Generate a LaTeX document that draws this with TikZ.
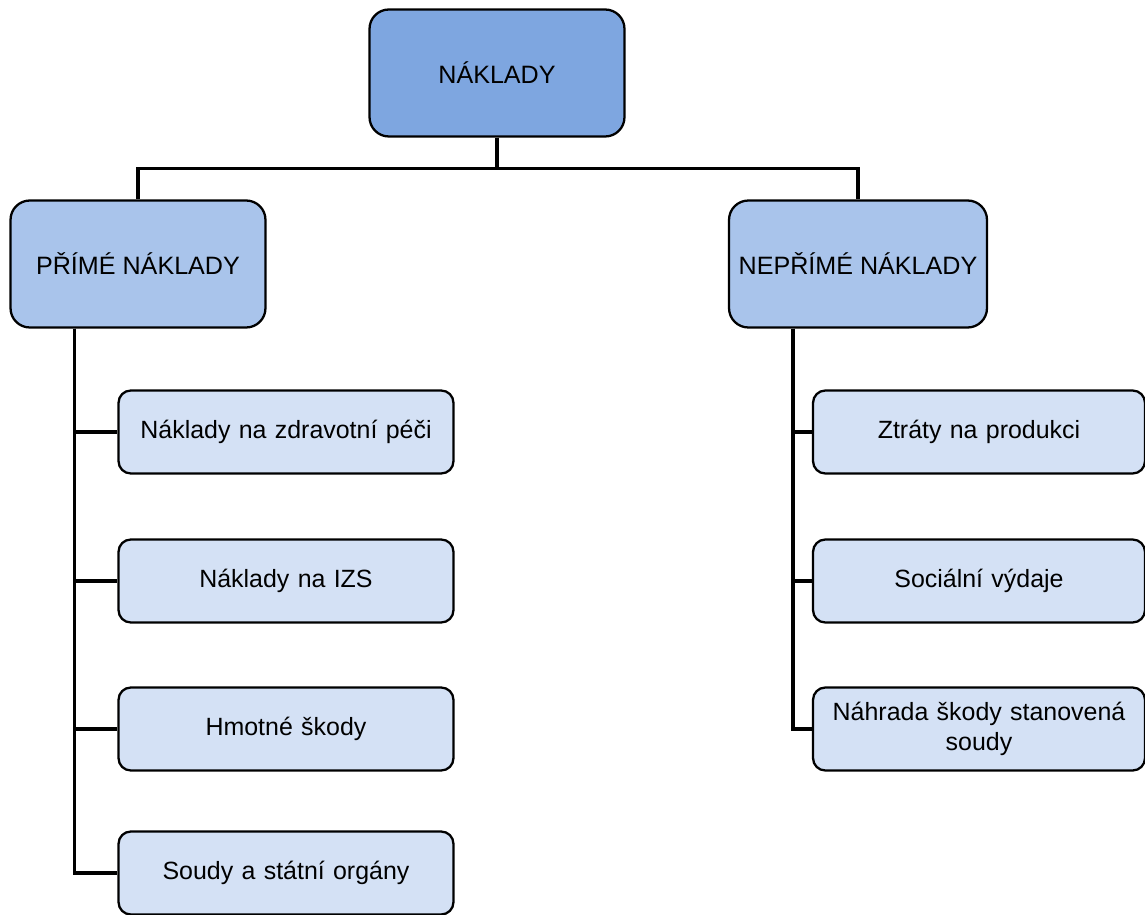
\documentclass[tikz,border=0pt]{standalone}
\usepackage{fontspec}
\setmainfont{Liberation Sans}
\usetikzlibrary{positioning}
\definecolor{rootblue}{HTML}{7EA6E0}
\definecolor{midblue}{HTML}{A9C4EB}
\definecolor{leafblue}{HTML}{D4E1F5}
\tikzset{
  rootbox/.style={draw=black, line width=1.3pt, fill=rootblue, rounded corners=11pt, minimum width=5.1cm, minimum height=2.54cm, align=center, font=\fontsize{14.3}{17}\selectfont},
  midbox/.style={rootbox, fill=midblue},
  leafbox/.style={draw=black, line width=1.3pt, fill=leafblue, rounded corners=7pt, minimum width=6.7cm, minimum height=1.66cm, text width=6.4cm, align=center, font=\fontsize{14.2}{17}\selectfont},
  link/.style={draw=black, line width=1.9pt}
}
\begin{document}
\begin{tikzpicture}[x=0.02cm, y=-0.02cm]
  \useasboundingbox (0,0) rectangle (1145,915);
  % Root
  \node[rootbox] (root) at (497,73) {NÁKLADY};
  % Second level
  \node[midbox] (prime) at (138,264) {PŘÍMÉ NÁKLADY};
  \node[midbox, minimum width=5.16cm] (neprime) at (858,264) {NEPŘÍMÉ NÁKLADY};
  % Direct costs
  \node[leafbox] (zdrav) at (286,432) {Náklady na zdravotní péči};
  \node[leafbox] (izs) at (286,581) {Náklady na IZS};
  \node[leafbox] (skody) at (286,729) {Hmotné škody};
  \node[leafbox] (soudy) at (286,873) {Soudy a státní orgány};
  % Indirect costs
  \node[leafbox, minimum width=6.64cm] (produkce) at (979,432) {Ztráty na produkci};
  \node[leafbox, minimum width=6.64cm] (socialni) at (979,581) {Sociální výdaje};
  \node[leafbox, minimum width=6.64cm] (nahrada) at (979,729) {Náhrada škody stanovená\\soudy};
  % Connectors
  \draw[link] (root.south) -- ++(0,31) -| (prime.north);
  \draw[link] (root.south) -- ++(0,31) -| (neprime.north);
  \coordinate (trunkL) at ([xshift=1.3cm]prime.south west);
  \coordinate (trunkR) at ([xshift=1.3cm]neprime.south west);
  \draw[link] (trunkL) |- (zdrav.west);
  \draw[link] (trunkL) |- (izs.west);
  \draw[link] (trunkL) |- (skody.west);
  \draw[link] (trunkL) |- (soudy.west);
  \draw[link] (trunkR) |- (produkce.west);
  \draw[link] (trunkR) |- (socialni.west);
  \draw[link] (trunkR) |- (nahrada.west);
\end{tikzpicture}
\end{document}
